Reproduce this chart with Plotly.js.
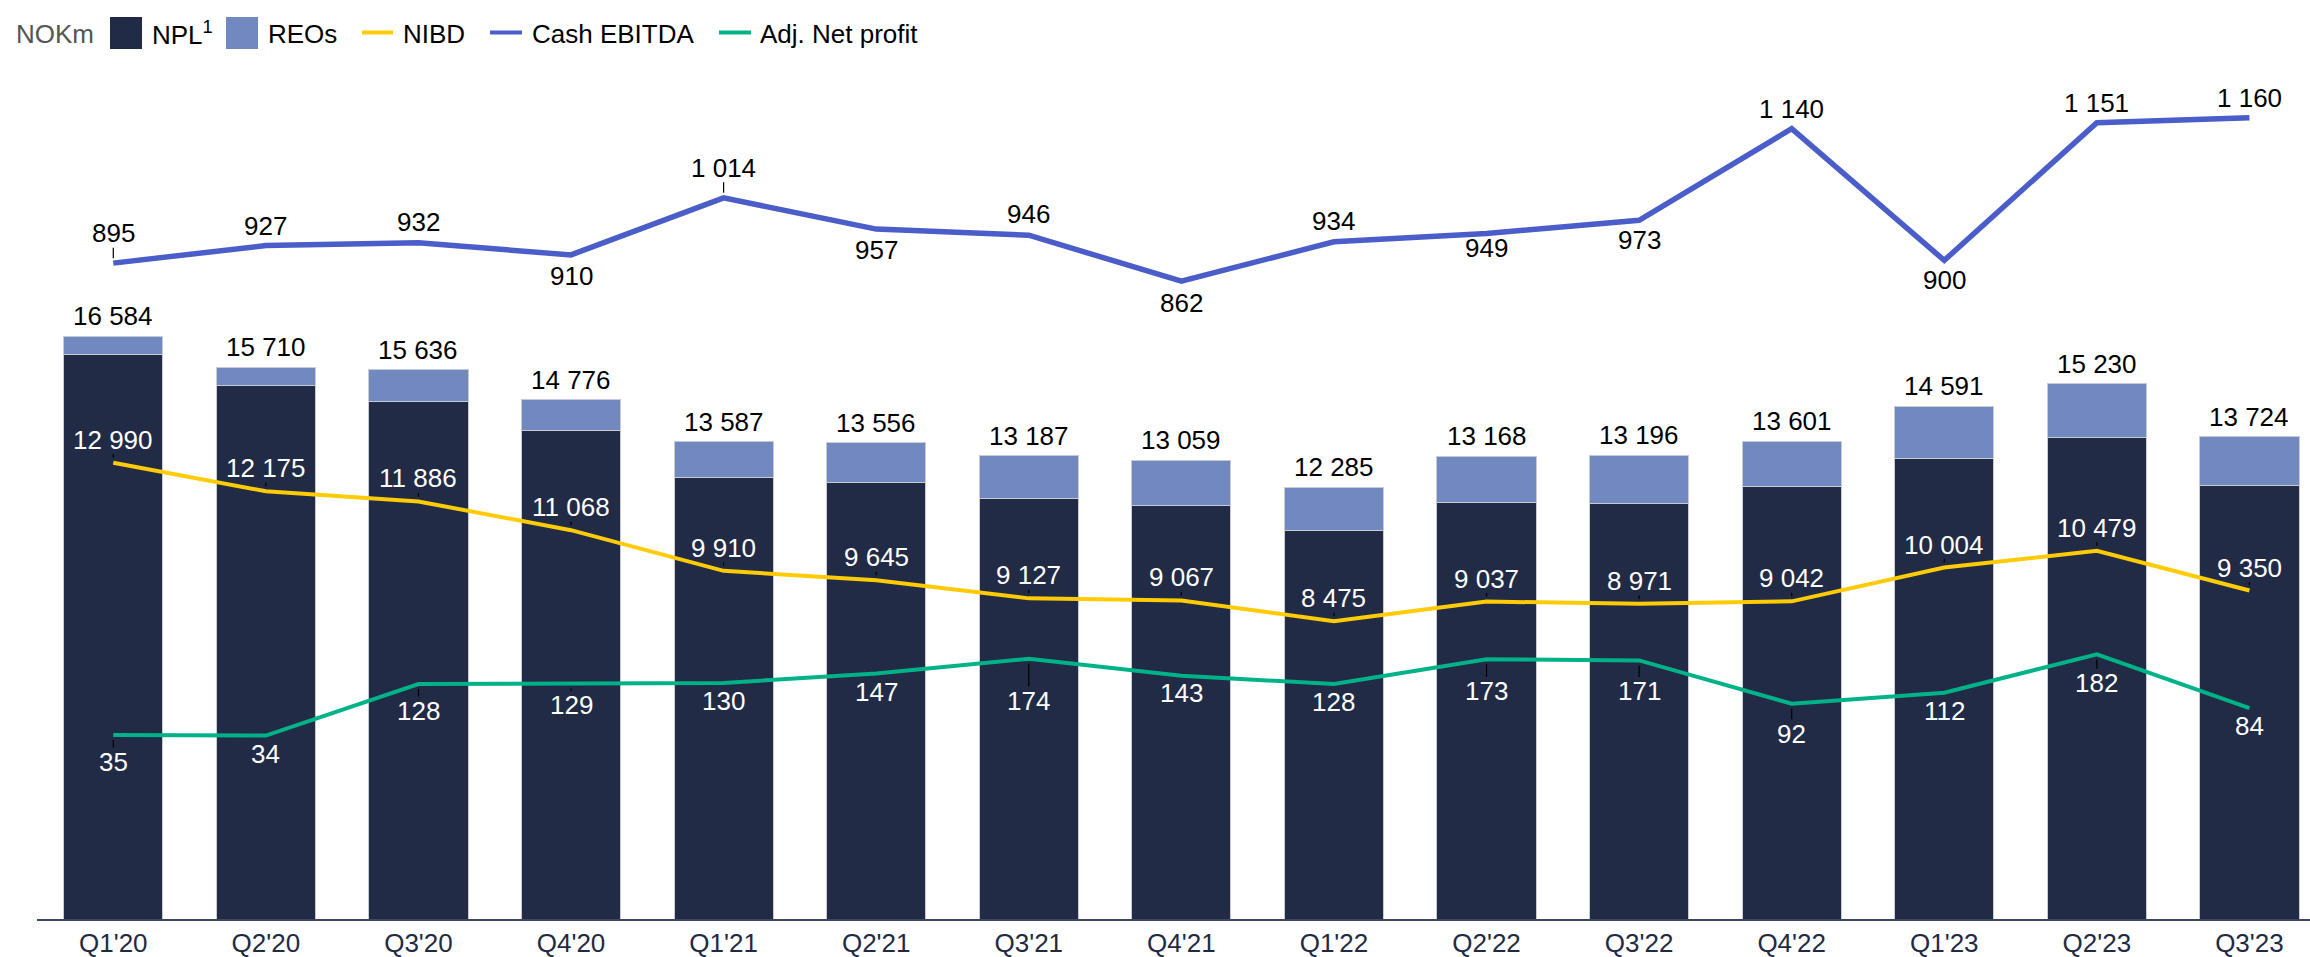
<!DOCTYPE html>
<html>
<head>
<meta charset="utf-8">
<script src="https://cdn.plot.ly/plotly-3.0.1.min.js"></script>
<style>html,body{margin:0;padding:0;background:#fff}#chart{width:2310px;height:957px}</style>
</head>
<body>
<div id="chart"></div>
<script>
// ---------------- data ----------------
const categories = ["Q1'20","Q2'20","Q3'20","Q4'20","Q1'21","Q2'21","Q3'21","Q4'21","Q1'22","Q2'22","Q3'22","Q4'22","Q1'23","Q2'23","Q3'23"];
const nplValues = [16063, 15190, 14725, 13911, 12579, 12428, 11981, 11763, 11070, 11859, 11839, 12314, 13120, 13700, 12334];
const reoValues = [521, 520, 911, 865, 1008, 1128, 1206, 1296, 1215, 1309, 1357, 1287, 1471, 1530, 1390];
const totalValues = [16584, 15710, 15636, 14776, 13587, 13556, 13187, 13059, 12285, 13168, 13196, 13601, 14591, 15230, 13724];
const nibdValues = [12990, 12175, 11886, 11068, 9910, 9645, 9127, 9067, 8475, 9037, 8971, 9042, 10004, 10479, 9350];
const cashEbitdaValues = [895, 927, 932, 910, 1014, 957, 946, 862, 934, 949, 973, 1140, 900, 1151, 1160];
const adjNetProfitValues = [35, 34, 128, 129, 130, 147, 174, 143, 128, 173, 171, 92, 112, 182, 84];

// ---------------- label placement (style) ----------------
const ebitdaLabelShift = [-30, -20, -21, 21, -30, 21, -21, 22, -21, 14, 20, -20, 20, -20, -20];
const ebitdaLeader =     [1, 0, 0, 0, 1, 0, 0, 0, 0, 0, 0, 0, 0, 0, 0];
const profitLabelShift = [27, 18, 27, 22, 18, 18, 42, 17, 18, 32, 31, 30, 18, 29, 18];
const profitLeader =     [1, 0, 1, 1, 0, 0, 1, 0, 0, 1, 1, 1, 0, 1, 0];

// ---------------- styling ----------------
const FONT = 'Liberation Sans, Arial, Helvetica, sans-serif';
const FS = 26;
const C_NPL = '#212b45', C_REO = '#7189bf', C_NIBD = '#ffcb05', C_EBITDA = '#4a5dc9', C_PROFIT = '#00b287';

const W = 2310, H = 957;
const M = {l: 37, r: 0, t: 60, b: 38};
const plotW = W - M.l - M.r, plotH = H - M.t - M.b;
const fx = px => (px - M.l) / plotW;
const fy = py => (H - M.b - py) / plotH;

const fmt = v => String(v).replace(/\B(?=(\d{3})+(?!\d))/g, ' ');

const traces = [
  {type:'bar', name:'NPL', x:categories, y:nplValues, marker:{color:C_NPL, line:{color:'#c7cbd4', width:1}}, hoverinfo:'skip'},
  {type:'bar', name:'REOs', x:categories, y:reoValues, marker:{color:C_REO, line:{color:'#c7cbd4', width:1}}, hoverinfo:'skip'},
  {type:'scatter', mode:'lines', name:'NIBD', x:categories, y:nibdValues, line:{color:C_NIBD, width:4}, hoverinfo:'skip'},
  {type:'scatter', mode:'lines', name:'Cash EBITDA', x:categories, y:cashEbitdaValues, yaxis:'y2', line:{color:C_EBITDA, width:5.5}, hoverinfo:'skip'},
  {type:'scatter', mode:'lines', name:'Adj. Net profit', x:categories, y:adjNetProfitValues, yaxis:'y2', line:{color:C_PROFIT, width:4}, hoverinfo:'skip'}
];

const annotations = [];
function label(x, y, yref, value, ay, leader, color) {
  annotations.push({
    x: x, y: y, xref: 'x', yref: yref, text: fmt(value),
    showarrow: true, ax: 0, ay: ay, axref: 'pixel', ayref: 'pixel',
    arrowhead: 0, arrowwidth: 1.2, arrowcolor: leader ? '#000000' : 'rgba(0,0,0,0)',
    standoff: 5, startstandoff: 4, height: 20, borderpad: 0,
    font: {family: FONT, size: FS, color: color}
  });
}
categories.forEach((c, i) => {
  label(c, totalValues[i], 'y', totalValues[i], -20, 0, '#000000');
  label(c, nibdValues[i], 'y', nibdValues[i], -23, 1, '#ffffff');
  label(c, cashEbitdaValues[i], 'y2', cashEbitdaValues[i], ebitdaLabelShift[i], ebitdaLeader[i], '#000000');
  label(c, adjNetProfitValues[i], 'y2', adjNetProfitValues[i], profitLabelShift[i], profitLeader[i], '#ffffff');
});

// ---------------- manual legend ----------------
const shapes = [];
function legendText(leftPx, text, color) {
  annotations.push({xref:'paper', yref:'paper', x: fx(leftPx), y: fy(34), xanchor:'left', yanchor:'middle',
    text: text, showarrow:false, borderpad:0, font:{family:FONT, size:FS, color:color}});
}
function legendBox(x0, x1, color) {
  shapes.push({type:'rect', xref:'paper', yref:'paper', x0: fx(x0), x1: fx(x1), y0: fy(49), y1: fy(17), fillcolor: color, line:{width:0}});
}
function legendLine(x0, x1, color) {
  shapes.push({type:'line', xref:'paper', yref:'paper', x0: fx(x0), x1: fx(x1), y0: fy(32.5), y1: fy(32.5), line:{color: color, width: 4}});
}
legendText(15, 'NOKm', '#555555');
legendBox(110, 142, C_NPL);
legendText(151, 'NPL<sup>1</sup>', '#000000');
legendBox(226, 258, C_REO);
legendText(267, 'REOs', '#000000');
legendLine(362, 393, C_NIBD);
legendText(402, 'NIBD', '#000000');
legendLine(490, 522, C_EBITDA);
legendText(531, 'Cash EBITDA', '#000000');
legendLine(719, 751, C_PROFIT);
legendText(759, 'Adj. Net profit', '#000000');

const layout = {
  width: W, height: H,
  margin: {l: M.l, r: M.r, t: M.t, b: M.b, pad: 0},
  paper_bgcolor: '#ffffff', plot_bgcolor: '#ffffff',
  barmode: 'stack', bargap: 0.35,
  showlegend: false, hovermode: false,
  font: {family: FONT, size: FS, color: '#000000'},
  xaxis: {type:'category', range:[-0.5, 14.397], showline:true, linecolor:'#3b4863', linewidth:2,
          ticks:'', showgrid:false, zeroline:false, automargin:false, fixedrange:true,
          tickfont:{family:FONT, size:FS, color:'#1f2a44'}},
  yaxis: {range:[0, 24452], visible:false, showgrid:false, zeroline:false, fixedrange:true},
  yaxis2: {range:[-300.3, 1265.2], overlaying:'y', visible:false, showgrid:false, zeroline:false, fixedrange:true},
  annotations: annotations,
  shapes: shapes
};

Plotly.newPlot('chart', traces, layout, {displayModeBar:false, staticPlot:true});
</script>
</body>
</html>
